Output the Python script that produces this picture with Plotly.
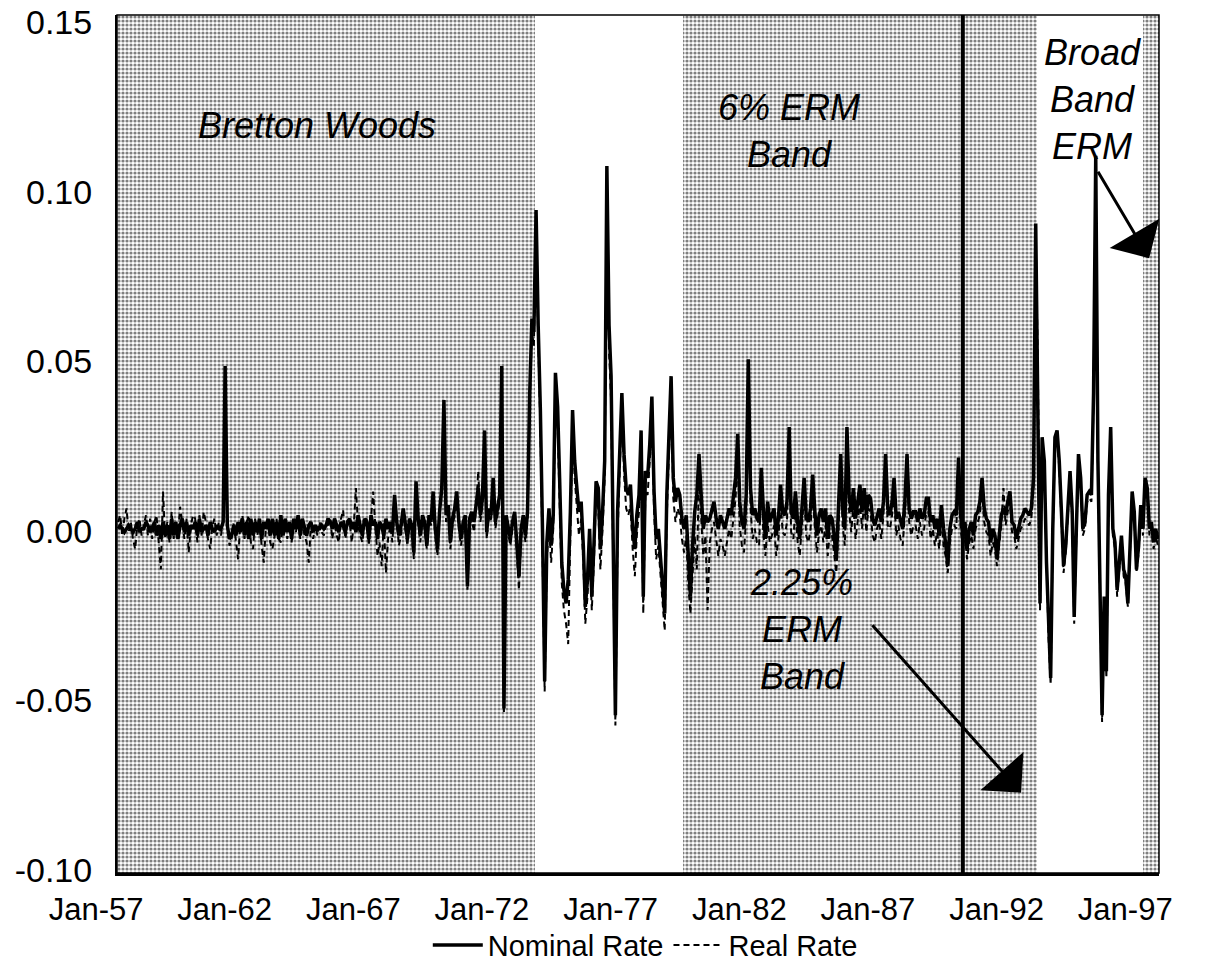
import pandas as pd
import plotly.graph_objects as go

# Monthly change, Jan 1957 - Jun 1997 (one row per year)
nominal_rate = [
    0.000, 0.001, 0.000, -0.001, 0.000, 0.001, 0.000, -0.001, 0.000, 0.002, -0.001, 0.000,   # 1957
    0.000, 0.002, 0.001, -0.001, 0.000, 0.002, -0.002, 0.001, -0.003, 0.002, -0.002, 0.001,  # 1958
    -0.003, 0.003, -0.002, 0.002, -0.003, 0.001, 0.003, -0.001, 0.002, -0.002, 0.001, 0.000, # 1959
    0.002, -0.002, 0.003, -0.001, 0.000, 0.001, -0.002, 0.002, 0.000, -0.001, 0.001, 0.000,  # 1960
    0.000, 0.002, 0.048, 0.001, -0.003, -0.002, 0.001, -0.002, 0.002, -0.001, 0.003, -0.002, # 1961
    0.002, -0.003, 0.003, -0.002, 0.002, -0.001, 0.003, -0.003, 0.002, 0.000, 0.003, -0.002, # 1962
    0.003, -0.002, 0.002, -0.003, 0.004, -0.002, 0.003, -0.001, 0.002, -0.003, 0.003, 0.000, # 1963
    0.004, -0.002, 0.003, 0.000, -0.002, 0.001, 0.002, -0.001, 0.001, 0.000, 0.000, 0.001,   # 1964
    0.000, 0.001, 0.003, 0.002, 0.000, 0.003, 0.001, -0.001, 0.002, 0.001, -0.001, 0.002,    # 1965
    0.003, 0.000, 0.002, -0.001, 0.004, 0.001, -0.002, 0.003, 0.002, -0.003, 0.004, 0.001,   # 1966
    0.002, -0.003, 0.002, 0.001, -0.002, 0.003, 0.000, 0.002, -0.001, 0.010, 0.002, -0.002,  # 1967
    0.001, 0.006, 0.002, -0.003, 0.003, 0.001, -0.007, 0.014, 0.003, -0.002, 0.004, 0.002,   # 1968
    -0.005, 0.004, 0.002, 0.011, 0.000, -0.006, 0.005, 0.012, 0.038, 0.004, 0.007, -0.004,   # 1969
    0.003, 0.006, 0.011, 0.002, -0.003, 0.002, 0.004, -0.017, 0.003, 0.005, 0.002, 0.008,    # 1970
    0.012, 0.004, 0.009, 0.029, -0.001, 0.006, 0.004, 0.015, 0.002, 0.006, 0.010, 0.048,     # 1971
    -0.053, 0.004, 0.000, -0.003, 0.002, 0.005, -0.004, -0.014, 0.000, 0.004, -0.002, 0.005, # 1972
    0.040, 0.062, 0.058, 0.094, 0.060, 0.035, 0.000, -0.045, -0.004, 0.006, -0.005, 0.004,   # 1973
    0.046, 0.036, 0.015, -0.010, -0.018, -0.022, -0.015, 0.005, 0.035, 0.020, 0.012, 0.005,  # 1974
    0.008, -0.005, -0.023, -0.015, 0.000, -0.020, -0.005, 0.014, 0.012, -0.006, 0.005, 0.020,# 1975
    0.107, 0.060, 0.045, -0.010, -0.055, 0.005, 0.020, 0.040, 0.022, 0.012, 0.010, 0.013,    # 1976
    0.000, -0.006, 0.004, 0.010, 0.029, -0.020, 0.017, 0.015, 0.025, 0.039, 0.011, -0.003,   # 1977
    0.000, -0.008, -0.018, -0.025, 0.010, 0.030, 0.045, 0.015, 0.008, 0.012, 0.010, 0.003,   # 1978
    0.000, 0.004, -0.010, -0.020, -0.005, 0.005, 0.010, 0.022, 0.010, 0.000, 0.004, 0.002,   # 1979
    0.003, 0.006, 0.008, 0.003, 0.000, 0.004, 0.002, 0.000, 0.003, 0.006, 0.004, 0.010,      # 1980
    0.015, 0.028, 0.008, 0.002, 0.000, 0.010, 0.050, 0.012, 0.004, 0.006, 0.003, 0.002,      # 1981
    0.018, 0.005, -0.003, 0.008, 0.002, 0.004, 0.006, -0.002, 0.003, 0.013, 0.005, 0.004,    # 1982
    0.008, 0.030, 0.005, 0.003, 0.011, 0.002, -0.003, 0.006, 0.015, 0.004, 0.002, 0.006,     # 1983
    0.016, 0.005, -0.002, 0.004, 0.006, 0.002, 0.006, -0.003, 0.004, 0.003, -0.002, -0.009,  # 1984
    0.005, 0.022, 0.006, 0.000, 0.030, 0.010, 0.005, 0.012, 0.003, 0.008, 0.013, 0.005,      # 1985
    0.012, 0.004, 0.010, 0.009, 0.003, 0.001, 0.004, 0.006, 0.002, 0.008, 0.022, 0.006,      # 1986
    0.004, 0.008, 0.015, 0.003, 0.005, 0.002, 0.000, 0.008, 0.022, 0.006, 0.003, 0.005,      # 1987
    0.005, 0.002, 0.006, 0.003, 0.004, 0.009, 0.009, 0.002, 0.004, 0.000, 0.003, -0.002,     # 1988
    0.007, 0.000, -0.004, -0.011, 0.000, 0.004, 0.005, 0.004, 0.021, 0.004, -0.002, 0.002,   # 1989
    -0.006, 0.000, 0.002, -0.002, 0.004, 0.005, 0.008, 0.015, 0.006, 0.003, 0.002, -0.004,   # 1990
    0.000, -0.002, -0.009, -0.002, 0.004, 0.006, 0.004, 0.008, 0.011, 0.002, 0.001, -0.003,  # 1991
    0.000, 0.003, 0.004, 0.006, 0.005, 0.004, 0.006, 0.015, 0.090, 0.042, -0.022, 0.027,     # 1992
    0.020, -0.010, -0.030, -0.044, 0.000, 0.027, 0.029, 0.020, 0.005, -0.011, -0.005, 0.005, # 1993
    0.017, 0.005, -0.026, 0.000, 0.022, 0.015, 0.000, 0.002, 0.010, 0.011, 0.010, 0.040,     # 1994
    0.110, 0.020, -0.020, -0.055, -0.020, -0.042, 0.010, 0.030, 0.000, -0.004, -0.018, -0.010, # 1995
    -0.002, -0.012, -0.014, -0.022, -0.005, 0.011, 0.005, -0.012, -0.005, 0.007, 0.000, 0.015, # 1996
    0.012, 0.000, 0.002, -0.004, 0.000, -0.003,                                              # 1997
]

real_rate = [
    0.002, 0.004, -0.002, 0.003, 0.006, -0.001, 0.002, -0.003, -0.006, 0.001, 0.003, -0.002, # 1957
    0.001, 0.004, -0.002, 0.003, -0.003, 0.002, 0.004, -0.004, -0.012, 0.011, -0.003, 0.002, # 1958
    -0.004, 0.005, -0.003, 0.002, -0.002, 0.0065, 0.002, -0.003, 0.003, -0.007, 0.001, 0.004,# 1959
    0.003, -0.004, 0.004, -0.002, 0.005, 0.002, -0.003, -0.006, 0.001, 0.003, -0.002, 0.002, # 1960
    -0.002, 0.003, 0.047, 0.002, -0.005, -0.003, 0.002, -0.004, -0.009, 0.001, 0.004, -0.003,# 1961
    0.002, 0.004, -0.004, -0.006, 0.003, -0.002, 0.002, -0.005, -0.010, 0.001, 0.003, -0.004,# 1962
    -0.006, -0.002, 0.003, -0.003, -0.004, 0.002, 0.001, -0.003, 0.002, -0.004, 0.002, -0.001, # 1963
    0.003, -0.003, 0.002, -0.002, -0.004, -0.010, 0.002, -0.003, 0.001, -0.002, 0.002, -0.001, # 1964
    -0.002, 0.002, 0.001, 0.003, -0.003, 0.002, -0.002, -0.004, 0.003, 0.0055, -0.003, 0.001,  # 1965
    0.002, -0.004, 0.001, 0.012, 0.001, -0.002, -0.004, 0.002, 0.003, -0.005, 0.002, 0.011,    # 1966
    0.001, -0.008, -0.004, -0.011, 0.002, -0.013, -0.003, 0.001, -0.004, 0.008, 0.003, -0.005, # 1967
    -0.002, 0.005, 0.000, -0.005, 0.003, -0.002, -0.009, 0.012, 0.002, -0.004, 0.003, 0.000,  # 1968
    -0.006, 0.003, 0.001, 0.009, -0.002, -0.008, 0.004, 0.010, 0.036, 0.002, 0.005, -0.006,   # 1969
    0.001, 0.004, 0.009, 0.000, -0.005, 0.000, 0.002, -0.018, 0.001, 0.003, -0.001, 0.006,    # 1970
    0.017, 0.002, 0.007, 0.027, -0.003, 0.004, 0.002, 0.013, 0.000, 0.004, 0.008, 0.046,      # 1971
    -0.054, 0.002, -0.002, -0.005, 0.000, 0.003, -0.007, -0.018, -0.003, 0.002, -0.004, 0.003, # 1972
    0.037, 0.058, 0.054, 0.090, 0.056, 0.030, -0.006, -0.048, -0.009, 0.002, -0.010, 0.000,   # 1973
    0.040, 0.030, 0.008, -0.016, -0.024, -0.028, -0.034, -0.002, 0.030, 0.015, 0.006, -0.002, # 1974
    0.003, -0.010, -0.028, -0.020, -0.006, -0.024, -0.010, 0.010, 0.006, -0.012, 0.000, 0.015, # 1975
    0.100, 0.052, 0.038, -0.018, -0.058, -0.002, 0.014, 0.036, 0.016, 0.006, 0.004, 0.007,    # 1976
    -0.006, -0.014, -0.002, 0.005, 0.024, -0.025, 0.011, 0.010, 0.020, 0.034, 0.005, -0.009,  # 1977
    -0.005, -0.014, -0.024, -0.030, 0.004, 0.025, 0.040, 0.009, 0.002, 0.006, 0.004, -0.003,  # 1978
    -0.007, -0.002, -0.016, -0.025, -0.012, -0.002, -0.012, 0.016, 0.003, -0.008, -0.002, -0.024, # 1979
    -0.004, 0.000, 0.002, -0.004, -0.008, -0.003, -0.005, -0.008, -0.004, 0.000, -0.003, 0.004, # 1980
    0.009, 0.022, 0.001, -0.005, -0.007, 0.004, 0.045, 0.006, -0.003, 0.000, -0.004, -0.005,  # 1981
    0.013, -0.002, -0.008, 0.002, -0.004, -0.002, 0.001, -0.008, -0.003, 0.008, -0.001, -0.002, # 1982
    0.002, 0.025, -0.001, -0.003, 0.006, -0.004, -0.008, 0.001, 0.010, -0.002, -0.004, 0.000, # 1983
    0.011, 0.000, -0.007, -0.001, 0.001, -0.004, 0.001, -0.008, -0.001, -0.002, -0.007, -0.013, # 1984
    0.000, 0.017, 0.001, -0.005, 0.025, 0.005, -0.001, 0.007, -0.003, 0.003, 0.008, 0.000,   # 1985
    0.008, -0.001, 0.006, 0.005, -0.002, -0.004, 0.000, 0.002, -0.003, 0.004, 0.018, 0.001,  # 1986
    0.000, 0.004, 0.011, -0.002, 0.001, -0.003, -0.005, 0.004, 0.018, 0.002, -0.002, 0.001,  # 1987
    0.001, -0.003, 0.002, -0.002, 0.000, 0.005, 0.005, -0.003, 0.000, -0.005, -0.001, -0.006, # 1988
    0.003, -0.005, -0.008, -0.013, -0.004, 0.000, 0.001, 0.000, 0.018, 0.000, -0.006, -0.002, # 1989
    -0.009, -0.004, -0.002, -0.006, 0.000, 0.002, 0.004, 0.011, 0.002, -0.001, -0.002, -0.008, # 1990
    -0.004, -0.006, -0.011, -0.005, 0.001, 0.012, 0.001, 0.005, 0.008, -0.001, -0.002, -0.006, # 1991
    -0.003, 0.000, 0.001, 0.003, 0.002, 0.001, 0.003, 0.012, 0.087, 0.049, -0.024, 0.025,    # 1992
    0.018, -0.012, -0.032, -0.046, -0.002, 0.025, 0.027, 0.018, 0.003, -0.013, -0.007, 0.003, # 1993
    0.015, 0.003, -0.028, -0.002, 0.020, 0.013, -0.002, 0.000, 0.008, 0.009, 0.008, 0.038,   # 1994
    0.107, 0.018, -0.022, -0.057, -0.022, -0.044, 0.008, 0.028, -0.002, -0.006, -0.020, -0.012, # 1995
    -0.004, -0.014, -0.016, -0.023, -0.007, 0.009, 0.003, -0.013, -0.007, 0.005, -0.002, 0.013, # 1996
    0.010, -0.002, 0.000, -0.006, -0.002, -0.005,                                            # 1997
]

assert len(nominal_rate) == 486, len(nominal_rate)
assert len(real_rate) == 486, len(real_rate)

first_month = "1957-01-01"
months = pd.date_range(first_month, periods=len(nominal_rate), freq="MS")

# exchange-rate regimes (shaded periods)
regime_start = ["1956-12-17", "1978-12-20", "1996-11-01"]
regime_end = ["1973-03-22", "1992-09-22", "1997-06-17"]
narrow_band_start = "1989-11-01"

tick_dates = ["1957-01-01", "1962-01-01", "1967-01-01", "1972-01-01", "1977-01-01",
              "1982-01-01", "1987-01-01", "1992-01-01", "1997-01-01"]
tick_labels = ["Jan-57", "Jan-62", "Jan-67", "Jan-72", "Jan-77",
               "Jan-82", "Jan-87", "Jan-92", "Jan-97"]
y_ticks = [-0.10, -0.05, 0.00, 0.05, 0.10, 0.15]
y_labels = ["-0.10", "-0.05", "0.00", "0.05", "0.10", "0.15"]

FONT = "Liberation Sans, Arial, Helvetica, sans-serif"
AXIS_LO, AXIS_HI = -0.1015, 0.1515

fig = go.Figure()

starts = pd.to_datetime(regime_start)
ends = pd.to_datetime(regime_end)
mids = starts + (ends - starts) / 2
widths = [(e - s).total_seconds() * 1000 for s, e in zip(starts, ends)]
fig.add_trace(go.Bar(
    x=mids, y=[AXIS_HI - AXIS_LO] * len(mids), base=[AXIS_LO] * len(mids), width=widths,
    marker=dict(color="white", line=dict(width=0),
                pattern=dict(shape=".", fgcolor="black", bgcolor="white",
                             size=4, solidity=0.5)),
    showlegend=False, hoverinfo="skip",
))

fig.add_trace(go.Scatter(
    x=months, y=real_rate, mode="lines", name="Real Rate", legendrank=2,
    line=dict(color="black", width=2, dash="6px,4px"),
))
fig.add_trace(go.Scatter(
    x=months, y=nominal_rate, mode="lines", name="Nominal Rate", legendrank=1,
    line=dict(color="black", width=3.5),
))

fig.add_shape(type="line", xref="x", yref="paper", x0=narrow_band_start, x1=narrow_band_start,
              y0=0, y1=1, line=dict(color="black", width=4))
fig.add_shape(type="rect", xref="paper", yref="paper", x0=0, x1=1, y0=0, y1=1,
              line=dict(color="black", width=1.5))

ann_font = dict(family=FONT, size=36, color="black", style="italic")
fig.add_annotation(x="1964-09-20", y=0.1189, text="Bretton Woods", showarrow=False, font=ann_font)
fig.add_annotation(x="1983-02-01", y=0.1174, text="6% ERM<br>Band", showarrow=False, font=ann_font)
fig.add_annotation(x="1994-11-10", y=0.1267, text="Broad<br>Band<br>ERM", showarrow=False, font=ann_font)
fig.add_annotation(x="1983-07-20", y=-0.0297, text="2.25%<br>ERM<br>Band", showarrow=False, font=ann_font)
fig.add_annotation(x="1992-02-06", y=-0.0778, text="", showarrow=True, ax=-150, ay=-169,
                   arrowhead=1, arrowsize=3.2, arrowwidth=3, arrowcolor="black", standoff=0)
fig.add_annotation(x="1997-01-28", y=0.0798, text="", showarrow=True, ax=-52, ay=-88,
                   arrowhead=1, arrowsize=3.2, arrowwidth=3, arrowcolor="black", standoff=0)

fig.update_layout(
    width=1214, height=966,
    margin=dict(l=117, r=55, t=15, b=93, autoexpand=False),
    paper_bgcolor="white", plot_bgcolor="white",
    font=dict(family=FONT, color="black"),
    showlegend=True,
    legend=dict(orientation="h", x=0.507, xanchor="center", y=-0.084, yanchor="middle",
                font=dict(size=29, family=FONT), itemwidth=50, bgcolor="rgba(0,0,0,0)"),
    bargap=0,
)
fig.update_xaxes(
    type="date", range=["1956-12-17", "1997-06-17"], automargin=False,
    tickmode="array", tickvals=tick_dates, ticktext=tick_labels,
    tickfont=dict(size=31, family=FONT), ticks="", ticklabelshift=-22, ticklabelstandoff=7,
    ticklabeloverflow="allow",
    showgrid=False, zeroline=False, showline=True, linecolor="black", linewidth=3,
)
fig.update_yaxes(
    range=[AXIS_LO, AXIS_HI], automargin=False, tickmode="array", tickvals=y_ticks, ticktext=y_labels,
    tickfont=dict(size=34, family=FONT), ticks="", ticklabelstandoff=16, ticklabelshift=2,
    ticklabeloverflow="allow",
    showgrid=False, zeroline=False, showline=True, linecolor="black", linewidth=2,
)

fig.write_html("out.html", config={"displayModeBar": False},
               post_script="document.body.style.margin='0';")
